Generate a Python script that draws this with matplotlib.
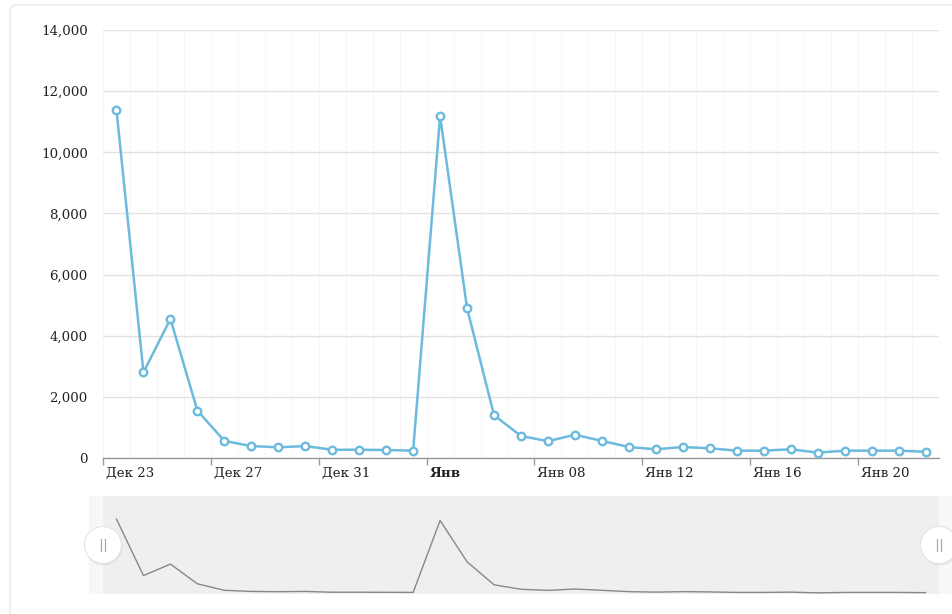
import matplotlib
matplotlib.use('Agg')
import matplotlib.dates as mdates
import matplotlib.pyplot as plt
import matplotlib.transforms as mtransforms
import pandas as pd
from matplotlib.patches import Circle, FancyBboxPatch, Rectangle

# daily values, Dec 23 .. Jan 22
values = [
    11380, 2800, 4550, 1550, 560, 390, 350, 390, 270, 270, 260,
    240, 11180, 4900, 1400, 720, 550, 760, 560, 360, 285, 360,
    317, 240, 240, 285, 175, 240, 240, 240, 205,
]
start_day = '2017-12-23'
tick_days = ['2017-12-23', '2017-12-27', '2017-12-31', '2018-01-04',
             '2018-01-08', '2018-01-12', '2018-01-16', '2018-01-20']
tick_labels = ['Дек 23', 'Дек 27', 'Дек 31', 'Янв',
               'Янв 08', 'Янв 12', 'Янв 16', 'Янв 20']
y_ticks = [0, 2000, 4000, 6000, 8000, 10000, 12000, 14000]

days = pd.date_range(start_day, periods=len(values), freq='D')
# amCharts puts the points in the middle of each day
x = days + pd.Timedelta(hours=12)
x0 = days[0]
x1 = days[-1] + pd.Timedelta(days=1)

W, H = 952, 614
fig = plt.figure(figsize=(W / 100, H / 100), dpi=100)
fig.patch.set_facecolor('white')

LINE = '#6cbadc'
TXT = '#222222'
FONT = 'DejaVu Serif'


def px_axes(l, t, r, b, **kw):
    return fig.add_axes([l / W, 1 - b / H, (r - l) / W, (b - t) / H], **kw)


# background layer: card border + scrollbar strips
bg = px_axes(0, 0, W, H, zorder=0)
bg.set_xlim(0, W)
bg.set_ylim(H, 0)
bg.axis('off')
bg.add_patch(FancyBboxPatch((10, 5), 1000, 700, boxstyle='round,pad=0,rounding_size=7',
                            fc='white', ec='#e8e8e8', lw=1.0))
bg.add_patch(Rectangle((89, 496), W - 89, 98, fc='#f7f7f7', ec='none'))

# main chart
ax = px_axes(103, 30, 939, 458, zorder=2)
ax.set_facecolor('none')
ax.plot(x, values, color=LINE, lw=1.8, marker='o', ms=5.4,
        mfc='white', mec=LINE, mew=1.7, zorder=3, clip_on=False)

ax.set_xlim(x0, x1)
ax.set_ylim(0, 14000)
ax.set_yticks(y_ticks)
ax.set_yticklabels([f'{v:,}' for v in y_ticks], fontsize=9.6, family=FONT, color=TXT)
ax.tick_params(axis='y', length=0, pad=11)

ax.set_xticks(pd.to_datetime(tick_days))
ax.set_xticklabels([])
ax.xaxis.set_minor_locator(mdates.DayLocator())
ax.tick_params(axis='x', which='major', length=5, color='#999999', width=1)
ax.tick_params(axis='x', which='minor', length=0)

ax.grid(True, axis='y', color='#e2e2e2', lw=1.0)
ax.grid(True, axis='x', which='both', color='#f1f1f1', lw=0.8, ls=(0, (2, 1.5)))
ax.set_axisbelow(True)

for side in ['left', 'right', 'top']:
    ax.spines[side].set_visible(False)
ax.spines['bottom'].set_color('#999999')
ax.spines['bottom'].set_linewidth(1.0)

# x labels sit to the right of their tick
offset = mtransforms.ScaledTranslation(3 / 100, -9 / 100, fig.dpi_scale_trans)
trans = mtransforms.blended_transform_factory(ax.transData, ax.transAxes) + offset
for d, lab in zip(pd.to_datetime(tick_days), tick_labels):
    ax.text(mdates.date2num(d), 0, lab, transform=trans, ha='left', va='top',
            fontsize=9.6, family=FONT, color=TXT,
            fontweight='bold' if lab == 'Янв' else 'normal')

# scrollbar / navigator
nav = px_axes(103, 496, 939, 594, zorder=1)
nav.set_facecolor('#efefef')
nav.plot(x, values, color='#888888', lw=1.0)
nav.set_xlim(x0, x1)
nav.set_ylim(0, 14900)
nav.axis('off')
nav.add_patch(Rectangle((0, 0), 1, 1, transform=nav.transAxes, fc='#efefef', ec='none', zorder=0))

# handles on top
fg = px_axes(0, 0, W, H, zorder=5)
fg.set_xlim(0, W)
fg.set_ylim(H, 0)
fg.axis('off')
fg.patch.set_alpha(0)
for hx in [103, 939]:
    fg.add_patch(Circle((hx + 0.8, 546.5), 18.8, fc='#d8d8d8', ec='none', alpha=0.6))
    fg.add_patch(Circle((hx, 545), 18.5, fc='white', ec='#e4e4e4', lw=0.8))
    fg.plot([hx - 2, hx - 2], [539, 551], color='#aaaaaa', lw=0.9)
    fg.plot([hx + 2, hx + 2], [539, 551], color='#aaaaaa', lw=0.9)

fig.savefig('out.png', dpi=100)
